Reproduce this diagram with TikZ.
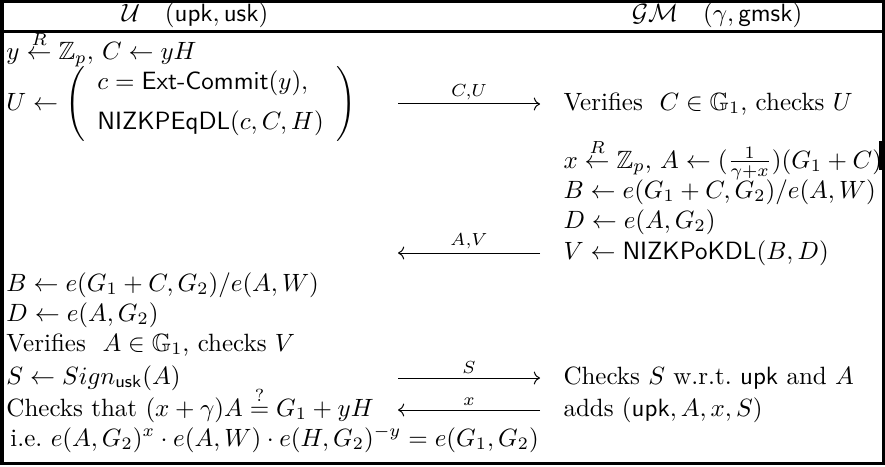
\documentclass[tikz,border=0pt]{standalone}
\usepackage{amsmath,amssymb}
\usetikzlibrary{arrows.meta}
\begin{document}
\begin{tikzpicture}[x=0.4pt,y=-0.4pt,
    cell/.style={anchor=base west,inner sep=0pt},
    head/.style={anchor=base,inner sep=0pt},
    frame/.style={line width=1.2pt},
    msg/.style={-{Computer Modern Rightarrow},line width=0.4pt},
    msglabel/.style={above=1pt,inner sep=0.5pt}]
    \useasboundingbox (0,0) rectangle (885,466);
    \draw[frame] (2,1.5) rectangle (883,463.5);
    \draw[frame] (2,32) -- (883,32);
    \draw[frame] (880.5,141) -- (880.5,170);
    \node[head] (hu) at (195,22) {$\mathcal{U}\quad(\mathsf{upk},\mathsf{usk})$};
    \node[head] (hg) at (717,22) {$\mathcal{GM}\quad(\gamma,\mathsf{gmsk})$};
    % user side
    \node[cell] (ly) at (6,60) {$y\stackrel{R}{\leftarrow}\mathbb{Z}_p,\,C\leftarrow yH$};
    \node[cell] (lu) at (6,110) {$U\leftarrow\left(\begin{array}{l}
        c=\mathsf{Ext\text{-}Commit}(y),\\[4pt]
        \mathsf{NIZKPEqDL}(c,C,H)\end{array}\right)$};
    \node[cell] (lb) at (6,291) {$B\leftarrow e(G_1+C,G_2)/e(A,W)$};
    \node[cell] (ld) at (6,321) {$D\leftarrow e(A,G_2)$};
    \node[cell] (lv) at (6,351) {Verifies~~$A\in\mathbb{G}_1$, checks $V$};
    \node[cell] (ls) at (6,384) {$S\leftarrow Sign_{\mathsf{usk}}(A)$};
    \node[cell] (lc) at (6,416) {Checks that $(x+\gamma)A\stackrel{?}{=}G_1+yH$};
    \node[cell] (li) at (10,446) {i.e.\ $e(A,G_2)^x\cdot e(A,W)\cdot e(H,G_2)^{-y}=e(G_1,G_2)$};
    % manager side
    \node[cell] (rv) at (563,110) {Verifies~~$C\in\mathbb{G}_1$, checks $U$};
    \node[cell] (rx) at (563,168) {$x\stackrel{R}{\leftarrow}\mathbb{Z}_p,\,A\leftarrow(\frac{1}{\gamma+x})(G_1+C)$};
    \node[cell] (rb) at (563,198) {$B\leftarrow e(G_1+C,G_2)/e(A,W)$};
    \node[cell] (rd) at (563,228) {$D\leftarrow e(A,G_2)$};
    \node[cell] (rp) at (563,259) {$V\leftarrow\mathsf{NIZKPoKDL}(B,D)$};
    \node[cell] (rs) at (563,384) {Checks $S$ w.r.t.\ $\mathsf{upk}$ and $A$};
    \node[cell] (ra) at (563,416) {adds $(\mathsf{upk},A,x,S)$};
    % messages
    \coordinate (cu1) at (398,104);
    \coordinate (cu2) at (540,104);
    \coordinate (av1) at (540,253);
    \coordinate (av2) at (398,253);
    \coordinate (s1) at (398,378);
    \coordinate (s2) at (540,378);
    \coordinate (x1) at (540,410);
    \coordinate (x2) at (398,410);
    \draw[msg] (cu1) -- (cu2) node[midway,msglabel] {$\scriptstyle C,U$};
    \draw[msg] (av1) -- (av2) node[midway,msglabel] {$\scriptstyle A,V$};
    \draw[msg] (s1) -- (s2) node[midway,msglabel] {$\scriptstyle S$};
    \draw[msg] (x1) -- (x2) node[midway,msglabel] {$\scriptstyle x$};
\end{tikzpicture}
\end{document}
